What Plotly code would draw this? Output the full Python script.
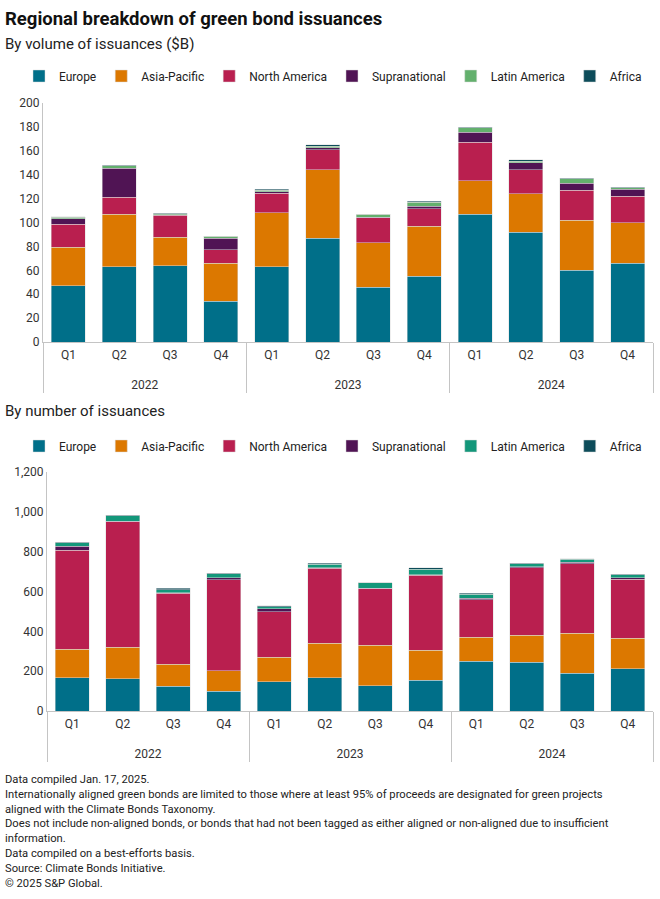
import plotly.graph_objects as go

years = ["2022"] * 4 + ["2023"] * 4 + ["2024"] * 4
quarters = ["Q1", "Q2", "Q3", "Q4"] * 3
regions = ["Europe", "Asia-Pacific", "North America", "Supranational", "Latin America", "Africa"]

# Volume of issuances ($B)
vol_europe = [47, 63, 64, 34, 63, 87, 46, 55, 107, 92, 60, 66]
vol_asia = [32.5, 44, 23.5, 32, 45, 57, 37, 42, 28, 32, 42, 34]
vol_na = [19, 14, 18.5, 11, 16.5, 17, 21, 14.5, 32, 20, 25, 22]
vol_supra = [4.5, 24.5, 0.5, 10, 1.2, 1.4, 0.5, 2, 8.5, 6, 6, 6]
vol_latam = [1.5, 2, 1, 1.5, 1.3, 1.5, 2.3, 3.3, 4, 1.4, 3.5, 1.1]
vol_africa = [0.5, 0.3, 0.3, 0.2, 1, 1.1, 0.3, 1, 0.3, 1.1, 0.5, 0.4]

# Number of issuances
num_europe = [166, 163, 124, 99, 148, 166, 126, 154, 250, 244, 190, 211]
num_asia = [145, 157, 111, 104, 122, 175, 205, 151, 121, 137, 201, 155]
num_na = [497, 629, 356, 456, 228, 376, 283, 376, 188, 339, 349, 295]
num_supra = [18, 3, 2, 10, 15, 3, 2, 2, 7, 5, 7, 7]
num_latam = [20, 28, 16, 20, 10, 17, 27, 28, 21, 15, 16, 16]
num_africa = [2, 3, 7, 2, 5, 6, 1, 8, 3, 3, 2, 3]

colors_top = ["#006f89", "#dc7800", "#b91f4f", "#501454", "#63b06d", "#0d4c5a"]
colors_bot = ["#006f89", "#dc7800", "#b91f4f", "#501454", "#13977a", "#0d4c5a"]

FONT = "Roboto, 'Liberation Sans', sans-serif"
W, H = 660, 899


def py(ypx):
    return 1 - ypx / H


def px(xpx):
    return xpx / W


# outer-level (year) labels pushed one line lower, as in the reference
year_labels = ["<br>" + y for y in years]

fig = go.Figure()
vol = [vol_europe, vol_asia, vol_na, vol_supra, vol_latam, vol_africa]
num = [num_europe, num_asia, num_na, num_supra, num_latam, num_africa]
for name, vals, c in zip(regions, vol, colors_top):
    fig.add_trace(go.Bar(x=[year_labels, quarters], y=vals, name=name, marker_color=c,
                         marker_line=dict(color="rgba(220,220,220,0.8)", width=0.6),
                         xaxis="x", yaxis="y", legend="legend"))
for name, vals, c in zip(regions, num, colors_bot):
    fig.add_trace(go.Bar(x=[year_labels, quarters], y=vals, name=name, marker_color=c,
                         marker_line=dict(color="rgba(220,220,220,0.8)", width=0.6),
                         xaxis="x2", yaxis="y2", legend="legend2"))

axis_common = dict(showgrid=False, zeroline=False, showline=True, linecolor="#c4c4c4",
                   linewidth=1, tickfont=dict(family=FONT, size=12, color="#333333"),
                   ticks="")
leg_common = dict(orientation="h", x=px(333), xanchor="center",
                  yanchor="middle", font=dict(family=FONT, size=12, color="#222222"),
                  traceorder="normal", bgcolor="rgba(0,0,0,0)", tracegroupgap=0,
                  borderwidth=0)
fig.update_layout(
    width=W, height=H, margin=dict(l=0, r=0, t=0, b=0, autoexpand=False),
    paper_bgcolor="white", plot_bgcolor="white",
    barmode="stack", bargap=0.33,
    font=dict(family=FONT, color="#222222"),
    xaxis=dict(domain=[px(43), px(653)], anchor="y", type="multicategory",
               dividercolor="#c4c4c4", dividerwidth=1, showdividers=True,
               ticklabelstandoff=2, **axis_common),
    yaxis=dict(domain=[py(342), py(103)], anchor="x", range=[0, 200], dtick=20,
               **axis_common),
    xaxis2=dict(domain=[px(47), px(653)], anchor="y2", type="multicategory",
                dividercolor="#c4c4c4", dividerwidth=1, showdividers=True,
                ticklabelstandoff=2, **axis_common),
    yaxis2=dict(domain=[py(711), py(472)], anchor="x2", range=[0, 1200], dtick=200,
                tickformat=",", **axis_common),
    legend=dict(y=py(76), **leg_common),
    legend2=dict(y=py(446), **leg_common),
)

ann = []


def text(t, x, y, size, bold=False, color="#111111"):
    ann.append(dict(text=("<b>%s</b>" % t) if bold else t, x=px(x), y=py(y), xref="paper",
                    yref="paper", xanchor="left", yanchor="middle", showarrow=False,
                    font=dict(family=FONT, size=size, color=color), align="left"))


text("Regional breakdown of green bond issuances", 3, 19, 18.5, bold=True)
text("By volume of issuances ($B)", 3, 44, 15, color="#222222")
text("By number of issuances", 3, 411, 15, color="#222222")

notes = [
    ("Data compiled Jan. 17, 2025.", 779),
    ("Internationally aligned green bonds are limited to those where at least 95% of proceeds are designated for green projects"
     "<br>aligned with the Climate Bonds Taxonomy.", 802),
    ("Does not include non-aligned bonds, or bonds that had not been tagged as either aligned or non-aligned due to insufficient"
     "<br>information.", 831),
    ("Data compiled on a best-efforts basis.", 853),
    ("Source: Climate Bonds Initiative.", 868),
    ("© 2025 S&P Global.", 883),
]
for t, y in notes:
    text(t, 3, y, 11.2, color="#222222")

fig.update_layout(annotations=ann)
fig.write_html("out.html", config={"displayModeBar": False},
               post_script="document.body.style.margin='0px';")
